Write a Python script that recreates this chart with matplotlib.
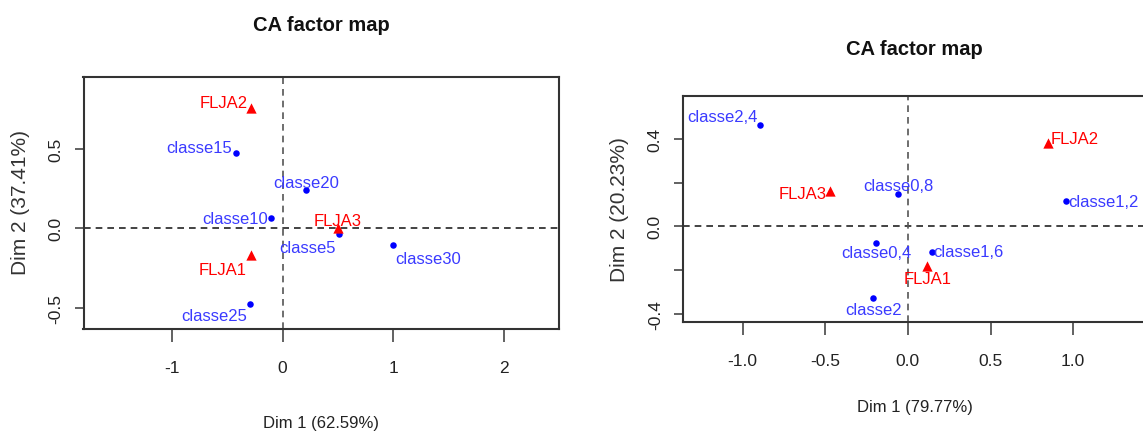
import matplotlib
matplotlib.use("Agg")
import matplotlib.pyplot as plt
from matplotlib import font_manager

# ---- data ----
# left map
rows1 = ["classe15", "classe20", "classe10", "classe5", "classe30", "classe25"]
rows1_x = [-0.42, 0.21, -0.10, 0.51, 1.00, -0.29]
rows1_y = [0.47, 0.24, 0.065, -0.038, -0.107, -0.473]
cols1 = ["FLJA2", "FLJA3", "FLJA1"]
cols1_x = [-0.28, 0.50, -0.28]
cols1_y = [0.752, 0.0, -0.169]
dim1_left = "Dim 1 (62.59%)"
dim2_left = "Dim 2 (37.41%)"

# right map
rows2 = ["classe2,4", "classe0,8", "classe1,2", "classe0,4", "classe1,6", "classe2"]
rows2_x = [-0.894, -0.059, 0.959, -0.191, 0.143, -0.209]
rows2_y = [0.464, 0.148, 0.116, -0.075, -0.116, -0.328]
cols2 = ["FLJA2", "FLJA3", "FLJA1"]
cols2_x = [0.848, -0.471, 0.117]
cols2_y = [0.379, 0.163, -0.18]
dim1_right = "Dim 1 (79.77%)"
dim2_right = "Dim 2 (20.23%)"

# label placement (pixels dx, dy, ha) -- style only
lab_rows1 = [(-3.5, 6, "right"), (0, 8, "center"), (-3.5, -1, "right"),
             (-3, -13, "right"), (2, -13, "left"), (-3.5, -12, "right")]
lab_cols1 = [(-3.5, 6, "right"), (0, 8.3, "center"), (-4.5, -13.7, "right")]
lab_rows2 = [(-2.6, 8.4, "right"), (0, 8.3, "center"), (1.6, -0.7, "left"),
             (0, -9.6, "center"), (1.8, 0, "left"), (0, -11, "center")]
lab_cols2 = [(2.6, 5, "left"), (-3.3, -2.6, "right"), (0, -13.3, "center")]

DPI = 100
names = {f.name for f in font_manager.fontManager.ttflist}
narrow = "Liberation Sans Narrow" if "Liberation Sans Narrow" in names else "Liberation Sans"
regular = "Liberation Sans"

blue_pt = "#0000ff"
blue_txt = "#3a3aff"
red = "#ff0000"
frame = "#333333"
LAB = 12

fig = plt.figure(figsize=(11.43, 4.35), dpi=DPI)


def px(v):
    return v * 72.0 / DPI


def draw_map(ax, rx, ry, rn, rl, cx, cy, cn, cl):
    ax.axhline(0, color="#222222", lw=1.2, ls=(0, (4, 3)), zorder=1)
    ax.axvline(0, color="#555555", lw=1.2, ls=(0, (4, 3)), zorder=1)
    ax.scatter(rx, ry, s=22, color=blue_pt, zorder=3, linewidths=0)
    ax.scatter(cx, cy, s=55, color=red, marker="^", zorder=3, linewidths=0)
    for x, y, t, (dx, dy, ha) in zip(rx, ry, rn, rl):
        ax.annotate(t, (x, y), xytext=(px(dx), px(dy)), textcoords="offset points",
                    ha=ha, va="center", color=blue_txt, fontsize=LAB, family=narrow)
    for x, y, t, (dx, dy, ha) in zip(cx, cy, cn, cl):
        ax.annotate(t, (x, y), xytext=(px(dx), px(dy)), textcoords="offset points",
                    ha=ha, va="center", color=red, fontsize=LAB, family=narrow)
    for s in ax.spines.values():
        s.set_color(frame)
        s.set_linewidth(1.5)
    ax.tick_params(axis="x", length=9.5, width=1.3, color="#555555", pad=13,
                   labelsize=12.5, labelcolor="#222222")
    ax.tick_params(axis="y", length=6.5, width=1.3, color="#555555", pad=8,
                   labelsize=12.5, labelcolor="#222222")
    for lab in ax.get_xticklabels():
        lab.set_family(narrow)
    for lab in ax.get_yticklabels():
        lab.set_family(regular)
        lab.set_rotation(90)
        lab.set_va("center")


# ---- left panel ----
ax1 = fig.add_axes([83.5 / 1143, 1 - 330 / 435, (559 - 83.5) / 1143, (330 - 78.3) / 435])
ax1.set_xlim(-1.796, 2.495)
ax1.set_ylim(-0.631, 0.947)
ax1.set_xticks([-1, 0, 1, 2])
ax1.set_xticklabels(["-1", "0", "1", "2"])
ax1.set_yticks([-0.5, 0, 0.5])
ax1.set_yticklabels(["-0.5", "0.0", "0.5"])
draw_map(ax1, rows1_x, rows1_y, rows1, lab_rows1, cols1_x, cols1_y, cols1, lab_cols1)
ax1.set_xlabel(dim1_left, family=narrow, fontsize=12, color="#222222")
ax1.xaxis.set_label_coords(0.5, -0.3695)
ax1.xaxis.label.set_va("center")
ax1.set_ylabel(dim2_left, family=regular, fontsize=15, color="#333333")
ax1.yaxis.set_label_coords(-0.1335, 0.5046)
ax1.yaxis.label.set_va("center")
ax1.text(0.5, 1.21, "CA factor map", transform=ax1.transAxes, ha="center", va="center",
         fontsize=14.5, fontweight="bold", family=narrow, color="#111111")

# ---- right panel (cut off at the right edge, as in the reference) ----
ax2 = fig.add_axes([682.9 / 1143, 1 - 322.7 / 435, (1147.6 - 682.9) / 1143, (322.7 - 96.7) / 435])
ax2.set_xlim(-1.361, 1.45)
ax2.set_ylim(-0.436, 0.597)
ax2.set_xticks([-1.0, -0.5, 0.0, 0.5, 1.0])
ax2.set_xticklabels(["-1.0", "-0.5", "0.0", "0.5", "1.0"])
ax2.set_yticks([-0.4, -0.2, 0.0, 0.2, 0.4])
ax2.set_yticklabels(["-0.4", "", "0.0", "", "0.4"])
draw_map(ax2, rows2_x, rows2_y, rows2, lab_rows2, cols2_x, cols2_y, cols2, lab_cols2)
ax2.set_xlabel(dim1_right, family=narrow, fontsize=12, color="#222222")
ax2.xaxis.set_label_coords(0.499, -0.377)
ax2.xaxis.label.set_va("center")
ax2.set_ylabel(dim2_right, family=regular, fontsize=15, color="#333333")
ax2.yaxis.set_label_coords(-0.1375, 0.4987)
ax2.yaxis.label.set_va("center")
ax2.text(0.498, 1.211, "CA factor map", transform=ax2.transAxes, ha="center", va="center",
         fontsize=14.5, fontweight="bold", family=narrow, color="#111111")

fig.savefig("out.png", dpi=DPI)
